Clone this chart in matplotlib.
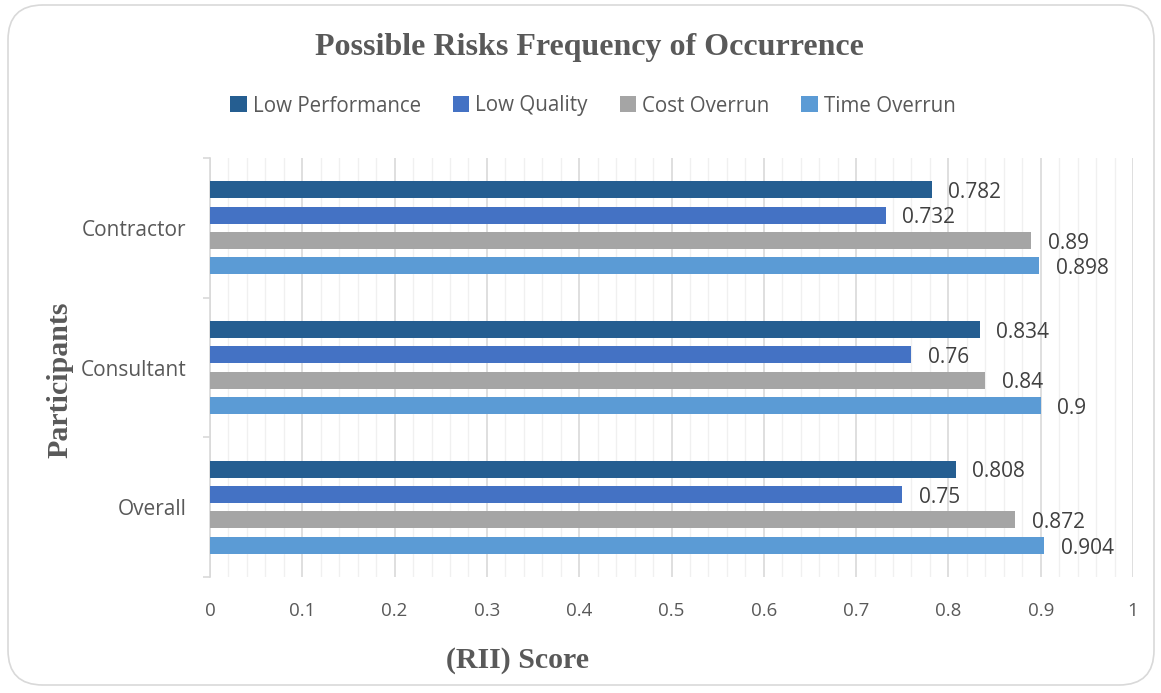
import matplotlib
matplotlib.use("Agg")
import matplotlib.pyplot as plt
import numpy as np
from matplotlib.patches import FancyBboxPatch, Patch
from matplotlib.ticker import MultipleLocator

categories = ["Overall", "Consultant", "Contractor"]
series_names = ["Low Performance", "Low Quality", "Cost Overrun", "Time Overrun"]
low_performance = [0.808, 0.834, 0.782]
low_quality = [0.75, 0.76, 0.732]
cost_overrun = [0.872, 0.84, 0.89]
time_overrun = [0.904, 0.9, 0.898]
x_ticks = [0, 0.1, 0.2, 0.3, 0.4, 0.5, 0.6, 0.7, 0.8, 0.9, 1]
x_tick_labels = ["0", "0.1", "0.2", "0.3", "0.4", "0.5", "0.6", "0.7", "0.8", "0.9", "1"]

colors = ["#255E91", "#4472C4", "#A5A5A5", "#5B9BD5"]
series = [low_performance, low_quality, cost_overrun, time_overrun]

fig = plt.figure(figsize=(11.61, 6.93), dpi=100)
W, H = 1161, 693

# rounded chart-area border
border = FancyBboxPatch((8 / W, 8 / H), 1146 / W, 680 / H,
                        boxstyle="round,pad=0,rounding_size=0.03",
                        transform=fig.transFigure, facecolor="none",
                        edgecolor="#D9D9D9", linewidth=1.2,
                        mutation_aspect=W / H, zorder=-1)
fig.patches.append(border)

ax = fig.add_axes([210 / W, (H - 577) / H, (1133 - 210) / W, (577 - 158) / H])
ax.set_facecolor("none")

y = np.arange(len(categories))
step = 0.182
height = 0.122
offsets = [1.5 * step, 0.5 * step, -0.5 * step, -1.5 * step]

for vals, name, col, off in zip(series, series_names, colors, offsets):
    bars = ax.barh(y + off, vals, height=height, color=col, label=name, zorder=3)
    for b, v in zip(bars, vals):
        ax.annotate(f"{v:g}", (v, b.get_y() + b.get_height() / 2),
                    xytext=(12, -2), textcoords="offset points",
                    ha="left", va="center", fontsize=15,
                    color="#404040", family="Open Sans")

ax.set_xlim(0, 1)
ax.set_ylim(-0.5, len(categories) - 0.5)
ax.set_xticks(x_ticks)
ax.set_xticklabels(x_tick_labels, family="Open Sans", fontsize=13.5, color="#595959")
ax.xaxis.set_minor_locator(MultipleLocator(0.02))
ax.grid(axis="x", which="major", color="#D9D9D9", linewidth=1.2, zorder=0)
ax.grid(axis="x", which="minor", color="#F0F0F0", linewidth=1.0, zorder=0)
ax.tick_params(axis="x", which="both", length=0, pad=18)

# category labels centred on groups, ticks on group boundaries
ax.set_yticks(np.arange(-0.5, len(categories), 1.0))
ax.set_yticklabels([])
ax.tick_params(axis="y", which="major", length=5, color="#D9D9D9", width=1.2)
ax.set_yticks(y, minor=True)
ax.set_yticklabels(categories, minor=True, family="Open Sans", fontsize=15, color="#595959")
ax.tick_params(axis="y", which="minor", length=0, pad=17)

for s in ["top", "right", "bottom"]:
    ax.spines[s].set_visible(False)
ax.spines["left"].set_color("#D9D9D9")
ax.spines["left"].set_linewidth(1.2)

fig.text(589 / W, (H - 48) / H, "Possible Risks Frequency of Occurrence",
         ha="center", va="center", fontsize=23, fontweight="bold",
         family="Liberation Serif", color="#595959")
fig.text(518 / W, (H - 661) / H, "(RII) Score", ha="center", va="center",
         fontsize=21.5, fontweight="bold", family="Liberation Serif", color="#595959")
fig.text(60 / W, (H - 380) / H, "Participants", ha="center", va="center",
         rotation=90, fontsize=21.5, fontweight="bold", family="Liberation Serif",
         color="#595959")

handles = [Patch(facecolor=c, label=n) for c, n in zip(colors, series_names)]
leg = fig.legend(handles=handles, loc="center", bbox_to_anchor=(593 / W, (H - 106) / H),
                 ncol=4, frameon=False, handlelength=0.8, handleheight=0.8,
                 handletextpad=0.3, columnspacing=1.55,
                 prop={"family": "Open Sans", "size": 14.8})
for t in leg.get_texts():
    t.set_color("#595959")

fig.savefig("out.png", dpi=100)
